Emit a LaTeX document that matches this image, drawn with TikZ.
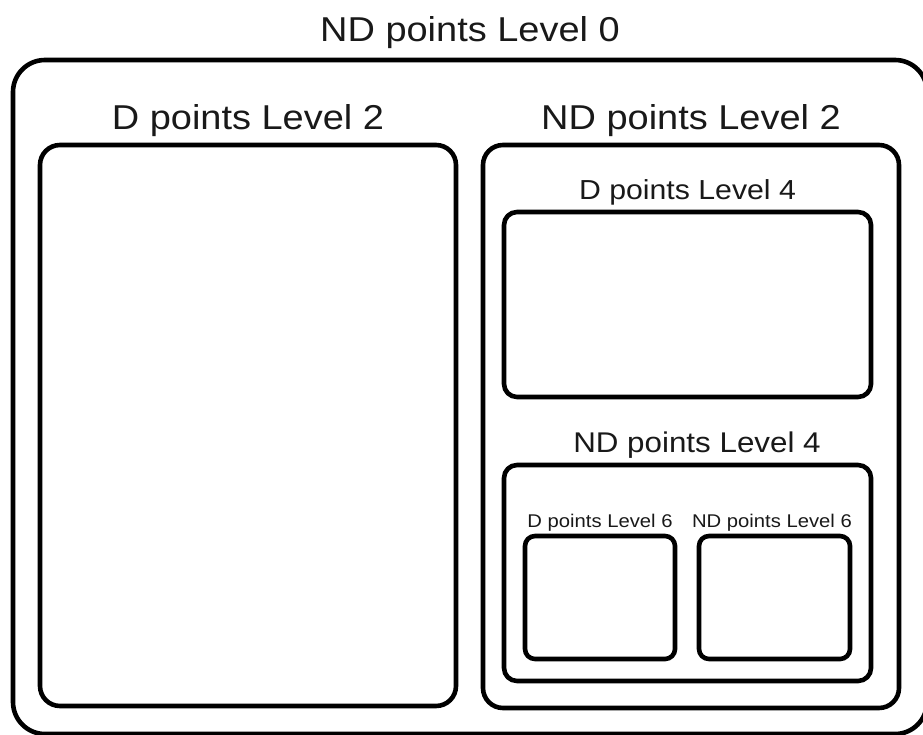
\documentclass[tikz,border=0pt]{standalone}
\usepackage{fontspec}
\setmainfont{Liberation Sans}[FakeStretch=1.1]
\begin{document}
\begin{tikzpicture}[x=1pt,y=-1pt,
  region/.style={draw=black, line width=4.6pt, rectangle, inner sep=0pt, fill=none},
  lbl/.style={anchor=base, inner sep=0pt, text=black!90}]
  \clip (0,0) rectangle (923,735);
  \fill[white] (0,0) rectangle (923,735);

  % nested regions: centre, width, height, corner radius
  \node[region, rounded corners=32pt, minimum width=914pt, minimum height=674pt] (nd0) at (470,397) {};
  \node[region, rounded corners=20pt, minimum width=416pt, minimum height=561pt] (d2) at (248,425.5) {};
  \node[region, rounded corners=20pt, minimum width=416pt, minimum height=563pt] (nd2) at (691,426.5) {};
  \node[region, rounded corners=13pt, minimum width=367pt, minimum height=185pt] (d4) at (687.5,304.5) {};
  \node[region, rounded corners=13pt, minimum width=367pt, minimum height=216pt] (nd4) at (687.5,573) {};
  \node[region, rounded corners=10pt, minimum width=150pt, minimum height=123pt] (d6) at (600,597.5) {};
  \node[region, rounded corners=10pt, minimum width=151pt, minimum height=123pt] (nd6) at (774.5,597.5) {};

  % region titles
  \node[lbl, font=\fontsize{34.5}{40}\selectfont] (tnd0) at (470,42) {ND points Level 0};
  \node[lbl, font=\fontsize{34.5}{40}\selectfont] (td2) at (248,130) {D points Level 2};
  \node[lbl, font=\fontsize{34.5}{40}\selectfont] (tnd2) at (691,130) {ND points Level 2};
  \node[lbl, font=\fontsize{27.5}{32}\selectfont] (td4) at (687.5,200) {D points Level 4};
  \node[lbl, font=\fontsize{28.5}{32}\selectfont] (tnd4) at (697,452) {ND points Level 4};
  \node[lbl, font=\fontsize{18.4}{22}\selectfont] (td6) at (600,527) {D points Level 6};
  \node[lbl, font=\fontsize{18.4}{22}\selectfont] (tnd6) at (772,527) {ND points Level 6};
\end{tikzpicture}
\end{document}
